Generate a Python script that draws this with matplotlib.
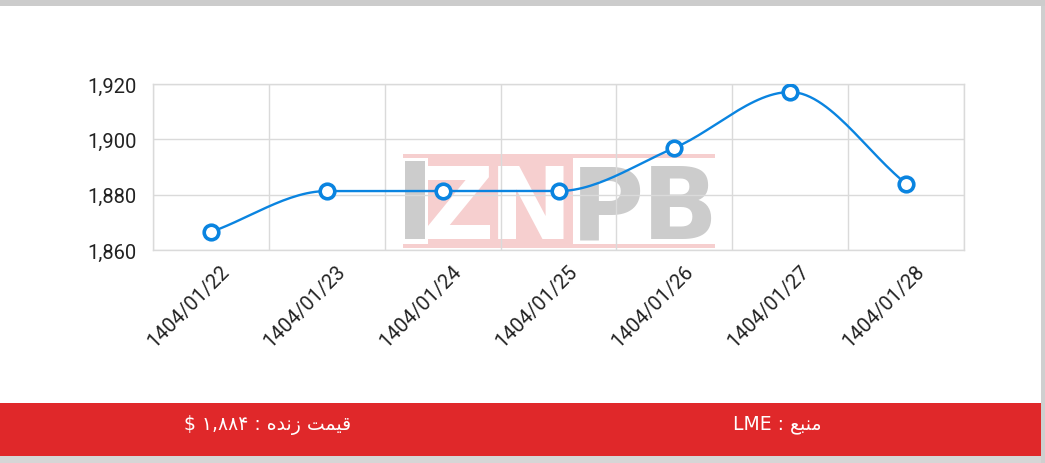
import matplotlib
matplotlib.use("Agg")
import matplotlib.pyplot as plt
import matplotlib.transforms as mtransforms
import numpy as np
from matplotlib.patches import Rectangle
from matplotlib.ticker import FuncFormatter

dates = ["1404/01/22", "1404/01/23", "1404/01/24", "1404/01/25",
         "1404/01/26", "1404/01/27", "1404/01/28"]
prices = [1866.5, 1881.3, 1881.3, 1881.3, 1896.9, 1917.1, 1884.0]
y_ticks = [1860, 1880, 1900, 1920]

# footer text, already in visual order with Arabic presentation forms
live_price = "$ \u06f1,\u06f8\u06f8\u06f4 : \ufee9\ufeaa\ufee7\ufeaf \ufe96\ufee4\ufef4\ufed7"
source = "LME : \ufeca\ufe92\ufee8\ufee3"

W, H = 1045, 464
blue = "#0a84e0"
grid_c = "#dadada"


def monotone(x, y, n=30):
    # Fritsch-Carlson monotone cubic, just for drawing the smoothed line
    x = np.asarray(x, float)
    y = np.asarray(y, float)
    h = np.diff(x)
    d = np.diff(y) / h
    m = np.zeros_like(y)
    m[0], m[-1] = d[0], d[-1]
    for i in range(1, len(y) - 1):
        if d[i - 1] * d[i] <= 0:
            m[i] = 0
        else:
            m[i] = 2 / (1 / d[i - 1] + 1 / d[i])
    xs, ys = [], []
    for i in range(len(h)):
        t = np.linspace(0, 1, n)
        h00 = 2 * t**3 - 3 * t**2 + 1
        h10 = t**3 - 2 * t**2 + t
        h01 = -2 * t**3 + 3 * t**2
        h11 = t**3 - t**2
        xs.append(x[i] + t * h[i])
        ys.append(h00 * y[i] + h10 * h[i] * m[i] + h01 * y[i + 1] + h11 * h[i] * m[i + 1])
    return np.concatenate(xs), np.concatenate(ys)


fig = plt.figure(figsize=(W / 100, H / 100), dpi=100)
fig.patch.set_facecolor("white")


def px_rect(x0, y0, x1, y1, **kw):
    fig.patches.append(Rectangle((x0 / W, 1 - y1 / H), (x1 - x0) / W, (y1 - y0) / H,
                                 transform=fig.transFigure, figure=fig, **kw))


# top / bottom grey strips and right edge
px_rect(0, 0, W, 7, color="#cccccc", lw=0)
px_rect(0, 457, W, H, color="#d6d6d6", lw=0)
px_rect(1041, 7, W, H, color="#cfcfcf", lw=0)

# red footer
px_rect(0, 404, 1041, 457, color="#e0282a", lw=0)
fig.text(268 / W, 1 - 425 / H, live_price, color="white", fontsize=13.5,
         ha="center", va="center", family=["DejaVu Sans", "Noto Sans"])
fig.text(777 / W, 1 - 425 / H, source, color="white", fontsize=13.5,
         ha="center", va="center", family=["DejaVu Sans", "Noto Sans"])

# watermark
pink = "#f6cfcf"
grey = "#cccccc"
wm_font = ["Liberation Sans Narrow", "DejaVu Sans"]
px_rect(428, 155, 573, 249, color=pink, lw=0, zorder=-2)
px_rect(403, 155, 715, 159, color=pink, lw=0, zorder=-2)
px_rect(403, 245, 715, 249, color=pink, lw=0, zorder=-2)
px_rect(405, 162, 425, 240, color=grey, lw=0, zorder=-2)
for ch, cx, col in [("Z", 458, "white"), ("N", 531, "white"),
                    ("P", 608, grey), ("B", 680, grey)]:
    fig.text(cx / W, 1 - 201 / H, ch, color=col, fontsize=72, fontweight="bold",
             ha="center", va="center_baseline", family=wm_font, zorder=-1)

ax = fig.add_axes([153 / W, 1 - 251 / H, (964 - 153) / W, (251 - 85) / H])
ax.patch.set_alpha(0)

idx = np.arange(len(dates))
sx, sy = monotone(idx, prices)
ax.plot(sx, sy, color=blue, lw=1.7, zorder=3)
ax.plot(idx, prices, "o", ms=10.5, mfc="white", mec=blue, mew=2.6, zorder=4)

ax.set_xlim(-0.5, len(dates) - 0.5)
ax.set_ylim(1860, 1920)
ax.set_yticks(y_ticks)
ax.yaxis.set_major_formatter(FuncFormatter(lambda v, p: f"{v:,.0f}"))
ax.set_xticks(idx)
ax.set_xticklabels(dates, rotation=45, ha="right", rotation_mode="anchor",
                   family="Roboto", fontsize=14.5, color="#222222")
ax.set_xticks(np.arange(-0.5, len(dates)), minor=True)
for lab in ax.get_yticklabels():
    lab.set_family("Roboto")
    lab.set_fontsize(14.5)
    lab.set_color("#222222")
ax.tick_params(axis="both", which="both", length=0)
ax.tick_params(axis="y", pad=12)
ax.tick_params(axis="x", pad=8)
# nudge the rotated date labels to the right, like the original
shift = mtransforms.ScaledTranslation(9 / 100, 0, fig.dpi_scale_trans)
for lab in ax.get_xticklabels():
    lab.set_transform(lab.get_transform() + shift)
ax.grid(True, axis="y", which="major", color=grid_c, lw=1)
ax.grid(True, axis="x", which="minor", color=grid_c, lw=1)
for s in ax.spines.values():
    s.set_color(grid_c)
    s.set_linewidth(1)

fig.savefig("out.png", dpi=100)
